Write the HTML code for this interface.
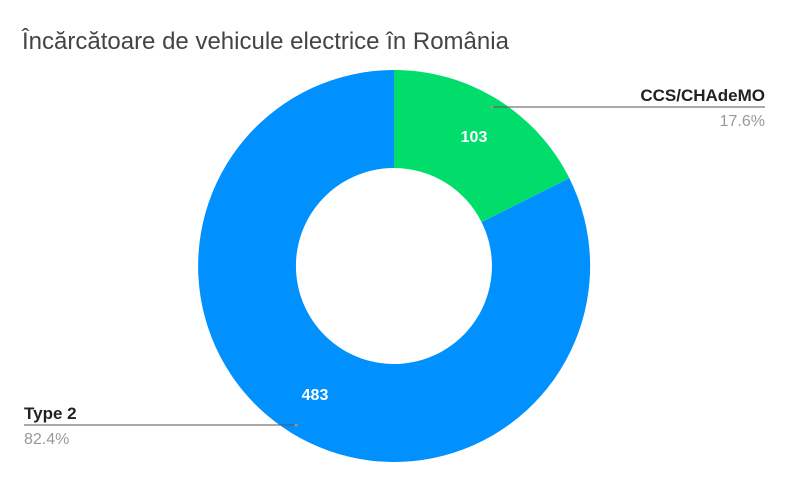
<!DOCTYPE html>
<html><head><meta charset="utf-8"><style>
html,body{margin:0;padding:0;background:#fff;}
svg{display:block;font-family:"Liberation Sans",Arial,sans-serif;}
</style></head><body>
<svg width="789" height="487" viewBox="0 0 789 487">
<rect width="789" height="487" fill="#fff"/>
<text x="22" y="49" font-size="24" fill="#444">Încărcătoare de vehicule electrice în România</text>
<path d="M394,70 A196,196 0 0 1 569.3,178.1 L481.6,222.2 A98,98 0 0 0 394,168 Z" fill="#00dd6a"/>
<path d="M569.3,178.1 A196,196 0 1 1 394,70 L394,168 A98,98 0 1 0 481.6,222.2 Z" fill="#0091ff"/>
<text x="474" y="142" font-size="16" font-weight="bold" fill="#fff" text-anchor="middle">103</text>
<text x="315" y="400" font-size="16" font-weight="bold" fill="#fff" text-anchor="middle">483</text>
<line x1="492" y1="107" x2="765" y2="107" stroke="#555" stroke-width="1"/>
<circle cx="492" cy="107" r="1.5" fill="#999"/>
<text x="765" y="101" font-size="17" font-weight="bold" fill="#222" text-anchor="end">CCS/CHAdeMO</text>
<text x="765" y="126" font-size="16" fill="#999" text-anchor="end">17.6%</text>
<line x1="24" y1="425" x2="296" y2="425" stroke="#555" stroke-width="1"/>
<circle cx="296" cy="425" r="1.5" fill="#999"/>
<text x="24" y="419" font-size="17" font-weight="bold" fill="#222">Type 2</text>
<text x="24" y="444" font-size="16" fill="#999">82.4%</text>
</svg>
</body></html>
